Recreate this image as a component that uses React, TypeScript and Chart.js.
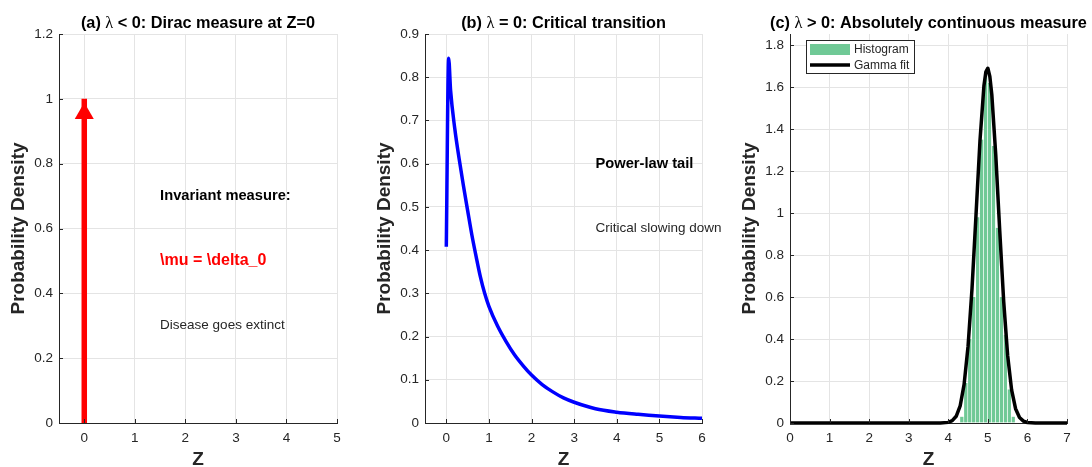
import React, { useEffect, useRef } from 'react';
import { Chart, registerables } from 'chart.js';

Chart.register(...registerables);

// ---------------- Data ----------------
// Panel (a): Dirac measure at Z = 0
const diracZ = [0, 0];
const diracDensity = [0, 1];
const arrowZ = [0];
const arrowDensity = [0.955];

// Panel (b): critical transition density
const critZ = [0, 0.055, 0.1, 0.2, 0.3, 0.4, 0.5, 0.6, 0.7, 0.8, 0.9, 1.0, 1.2, 1.4, 1.6, 1.8, 2.0, 2.25, 2.5, 2.75, 3.0, 3.5, 4.0, 4.5, 5.0, 5.5, 6.0];
const critDensity = [0.408, 0.844, 0.77, 0.68, 0.612, 0.55, 0.492, 0.435, 0.385, 0.338, 0.3, 0.27, 0.225, 0.189, 0.158, 0.133, 0.111, 0.089, 0.072, 0.058, 0.048, 0.033, 0.025, 0.02, 0.016, 0.013, 0.011];

// Panel (c): histogram + gamma fit
const histCenters = [4.35, 4.45, 4.55, 4.65, 4.75, 4.85, 4.95, 5.05, 5.15, 5.25, 5.35, 5.45, 5.55, 5.65];
const histHeights = [0.03, 0.19, 0.4, 0.6, 0.98, 1.35, 1.65, 1.62, 1.32, 0.93, 0.6, 0.42, 0.16, 0.03];
const gammaZ = [0, 3.6, 3.8, 4.0, 4.1, 4.2, 4.3, 4.4, 4.5, 4.6, 4.7, 4.8, 4.9, 4.95, 5.0, 5.05, 5.1, 5.2, 5.3, 5.4, 5.5, 5.6, 5.7, 5.8, 5.9, 6.0, 6.2, 6.4, 7.0];
const gammaDensity = [0, 0, 0.0001, 0.003, 0.011, 0.032, 0.081, 0.184, 0.366, 0.641, 0.989, 1.342, 1.605, 1.673, 1.69, 1.651, 1.564, 1.276, 0.916, 0.579, 0.322, 0.158, 0.068, 0.026, 0.009, 0.0025, 0.0002, 0, 0];

// Titles: [prefix, symbol, suffix]
const titleA = ['(a) ', 'λ', ' < 0: Dirac measure at Z=0'];
const titleB = ['(b) ', 'λ', ' = 0: Critical transition'];
const titleC = ['(c) ', 'λ', ' > 0: Absolutely continuous measure'];

const xLabel = 'Z';
const yLabel = 'Probability Density';
const legendLabels = ['Histogram', 'Gamma fit'];

// ---------------- Styles ----------------
const SANS = "'Liberation Sans', Arial, Helvetica, sans-serif";
const SERIF = "'Liberation Serif', 'Times New Roman', serif";
const AXIS = '#262626';
const GRID = '#e4e4e4';
const GREEN = 'rgb(112, 201, 150)';
const H = 467;

const zip = (xs: number[], ys: number[]) => xs.map((x, i) => ({ x, y: ys[i] }));
const fmt = (v: any) => String(Number(Number(v).toFixed(3)));

function xAxis(min: number, max: number) {
  return {
    type: 'linear',
    min,
    max,
    offset: false,
    ticks: {
      stepSize: 1,
      includeBounds: false,
      autoSkip: false,
      maxRotation: 0,
      color: AXIS,
      padding: 7,
      font: { family: SANS, size: 13.5 },
      callback: fmt,
    },
    grid: { color: GRID, lineWidth: 1, drawTicks: false, offset: false },
    border: { display: true, color: AXIS, width: 1 },
    title: {
      display: true,
      text: xLabel,
      color: AXIS,
      padding: 0,
      font: { family: SANS, size: 19, weight: 'bold', lineHeight: 0.75 },
    },
    afterFit: (s: any) => {
      s.height = 44;
    },
  };
}

function yAxis(max: number, step: number) {
  return {
    type: 'linear',
    min: 0,
    max,
    ticks: {
      stepSize: step,
      includeBounds: false,
      autoSkip: false,
      color: AXIS,
      padding: 6,
      font: { family: SANS, size: 13.5 },
      callback: fmt,
    },
    grid: { color: GRID, lineWidth: 1, drawTicks: false },
    border: { display: true, color: AXIS, width: 1 },
    title: {
      display: true,
      text: yLabel,
      color: AXIS,
      padding: { top: 9.5, bottom: 0 },
      font: { family: SANS, size: 19, weight: 'bold', lineHeight: 1 },
    },
    afterFit: (s: any) => {
      s.width = 59;
    },
  };
}

type Note = { x: number; y: number; text: string; size: number; bold: boolean; color: string };

function decorPlugin(title: string[], notes: Note[], legend: boolean) {
  return {
    id: 'decor',
    afterDraw(chart: any) {
      const { ctx, chartArea, scales } = chart;
      ctx.save();
      // inward tick marks
      ctx.strokeStyle = AXIS;
      ctx.lineWidth = 1;
      ctx.beginPath();
      for (const t of scales.x.ticks) {
        const px = Math.round(scales.x.getPixelForValue(t.value)) + 0.5;
        ctx.moveTo(px, chartArea.bottom);
        ctx.lineTo(px, chartArea.bottom - 4);
      }
      for (const t of scales.y.ticks) {
        const py = Math.round(scales.y.getPixelForValue(t.value)) + 0.5;
        ctx.moveTo(chartArea.left, py);
        ctx.lineTo(chartArea.left + 4, py);
      }
      ctx.stroke();

      // title with serif lambda
      const boldFont = `bold 16.3px ${SANS}`;
      const symFont = `16.3px ${SERIF}`;
      ctx.font = boldFont;
      const w0 = ctx.measureText(title[0]).width;
      const w2 = ctx.measureText(title[2]).width;
      ctx.font = symFont;
      const w1 = ctx.measureText(title[1]).width;
      const total = w0 + w1 + w2;
      let x = (chartArea.left + chartArea.right) / 2 - total / 2;
      const by = 28;
      ctx.fillStyle = '#000';
      ctx.textAlign = 'left';
      ctx.textBaseline = 'alphabetic';
      ctx.font = boldFont;
      ctx.fillText(title[0], x, by);
      x += w0;
      ctx.font = symFont;
      ctx.fillText(title[1], x, by);
      x += w1;
      ctx.font = boldFont;
      ctx.fillText(title[2], x, by);

      // annotations
      ctx.textBaseline = 'middle';
      for (const n of notes) {
        ctx.font = `${n.bold ? 'bold ' : ''}${n.size}px ${SANS}`;
        ctx.fillStyle = n.color;
        ctx.fillText(n.text, scales.x.getPixelForValue(n.x), scales.y.getPixelForValue(n.y));
      }

      // legend
      if (legend) {
        const lx = chartArea.left + 16;
        const ly = chartArea.top + 6;
        ctx.fillStyle = '#fff';
        ctx.fillRect(lx, ly, 109, 34);
        ctx.strokeStyle = AXIS;
        ctx.lineWidth = 1;
        ctx.strokeRect(lx + 0.5, ly + 0.5, 108, 33);
        ctx.fillStyle = GREEN;
        ctx.fillRect(lx + 4, ly + 4, 40, 11);
        ctx.strokeStyle = '#000';
        ctx.lineWidth = 3.5;
        ctx.beginPath();
        ctx.moveTo(lx + 4, ly + 25);
        ctx.lineTo(lx + 44, ly + 25);
        ctx.stroke();
        ctx.fillStyle = AXIS;
        ctx.font = `12px ${SANS}`;
        ctx.fillText(legendLabels[0], lx + 48, ly + 10);
        ctx.fillText(legendLabels[1], lx + 48, ly + 26);
      }
      ctx.restore();
    },
  };
}

function baseOptions(xmin: number, xmax: number, ymax: number, ystep: number, padRight: number) {
  return {
    responsive: false,
    animation: false,
    devicePixelRatio: 1,
    events: [],
    layout: { padding: { top: 34, right: padRight, left: 0, bottom: 0 } },
    plugins: { legend: { display: false }, title: { display: false }, tooltip: { enabled: false } },
    scales: { x: xAxis(xmin, xmax), y: yAxis(ymax, ystep) },
  };
}

const configA = () => ({
  type: 'line',
  data: {
    datasets: [
      {
        type: 'scatter',
        data: zip(arrowZ, arrowDensity),
        pointStyle: 'triangle',
        pointRadius: 11,
        backgroundColor: '#ff0000',
        borderColor: '#ff0000',
        borderWidth: 0,
      },
      {
        type: 'line',
        data: zip(diracZ, diracDensity),
        borderColor: '#ff0000',
        borderWidth: 5.5,
        borderCapStyle: 'butt',
        pointRadius: 0,
        tension: 0,
      },
    ],
  },
  options: baseOptions(-0.5, 5, 1.2, 0.2, 27),
  plugins: [
    decorPlugin(titleA, [
      { x: 1.5, y: 0.7, text: 'Invariant measure:', size: 14.7, bold: true, color: '#000' },
      { x: 1.5, y: 0.5, text: '\\mu = \\delta_0', size: 16, bold: true, color: '#ff0000' },
      { x: 1.5, y: 0.3, text: 'Disease goes extinct', size: 13.5, bold: false, color: '#262626' },
    ], false),
  ],
});

const configB = () => ({
  type: 'line',
  data: {
    datasets: [
      {
        type: 'line',
        data: zip(critZ, critDensity),
        borderColor: '#0000ff',
        borderWidth: 3.5,
        borderJoinStyle: 'round',
        pointRadius: 0,
        cubicInterpolationMode: 'monotone',
        clip: false,
      },
    ],
  },
  options: baseOptions(-0.5, 6, 0.9, 0.1, 26),
  plugins: [
    decorPlugin(titleB, [
      { x: 3.5, y: 0.6, text: 'Power-law tail', size: 14.7, bold: true, color: '#000' },
      { x: 3.5, y: 0.45, text: 'Critical slowing down', size: 13.5, bold: false, color: '#262626' },
    ], false),
  ],
});

const configC = () => ({
  type: 'line',
  data: {
    datasets: [
      {
        type: 'line',
        label: legendLabels[1],
        data: zip(gammaZ, gammaDensity),
        borderColor: '#000',
        borderWidth: 3.5,
        borderJoinStyle: 'round',
        pointRadius: 0,
        tension: 0,
        clip: false,
        order: 0,
      },
      {
        type: 'bar',
        label: legendLabels[0],
        data: zip(histCenters, histHeights),
        backgroundColor: GREEN,
        borderColor: '#ffffff',
        borderWidth: { left: 0, right: 1, top: 0, bottom: 0 },
        borderSkipped: false,
        barPercentage: 1,
        categoryPercentage: 1,
        order: 1,
      },
    ],
  },
  options: baseOptions(0, 7, 1.853, 0.2, 25),
  plugins: [decorPlugin(titleC, [], true)],
});

function Panel({ left, width, make }: { left: number; width: number; make: () => any }) {
  const ref = useRef<HTMLCanvasElement>(null);
  useEffect(() => {
    const chart = new Chart(ref.current as HTMLCanvasElement, make());
    return () => chart.destroy();
  }, []);
  return (
    <canvas
      ref={ref}
      width={width}
      height={H}
      style={{ position: 'absolute', left, top: 0, width, height: H, display: 'block' }}
    />
  );
}

export default function App() {
  return (
    <div style={{ position: 'fixed', left: 0, top: 0, width: 1092, height: H, background: '#fff', overflow: 'hidden' }}>
      <Panel left={0} width={364} make={configA} />
      <Panel left={366} width={362} make={configB} />
      <Panel left={731} width={361} make={configC} />
    </div>
  );
}
